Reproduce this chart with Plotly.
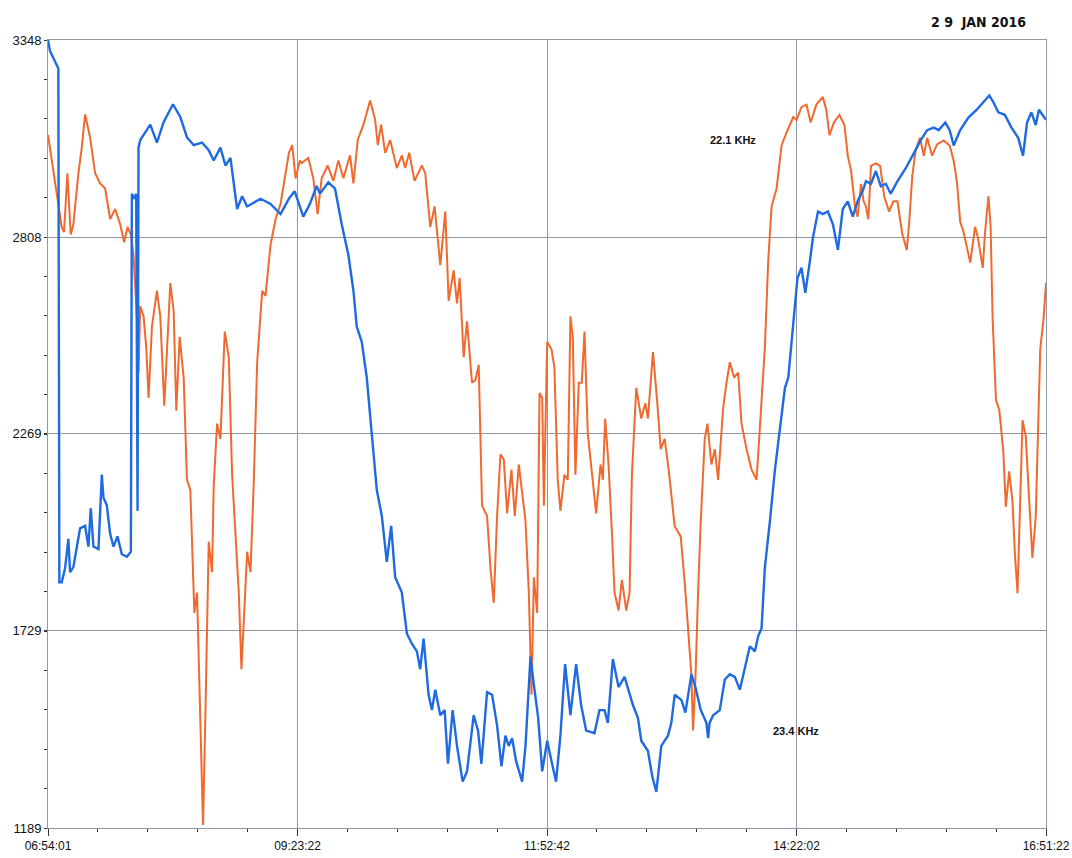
import plotly.graph_objects as go

# Time ticks (HH:MM:SS) and amplitude ticks
x_tick_labels = ["06:54:01", "09:23:22", "11:52:42", "14:22:02", "16:51:22"]
y_tick_values = [1189, 1729, 2269, 2808, 3348]
date_label = "2 9  JAN 2016"

# 22.1 KHz series: minutes after 06:54:01, amplitude
t_221 = [0, 1.2, 3.2, 6.2, 8.2, 9.6, 11.6, 13.6, 15.2, 18.2, 20.2, 22.2, 25.2, 28.2, 31.2, 34.2, 37.2, 40.2,
         43.2, 45.6, 47.6, 49.6, 51.2, 53.2, 54.2, 55.2, 57.2, 58.8, 60.2, 62.2, 65.2, 67.2, 69.6, 73.2, 75.2,
         76.8, 78.8, 81.2, 83.2, 85.2, 87.6, 89.2, 90.8, 92.8, 94.2, 96.2, 98.2, 99.2, 101.2, 103.2, 105.8,
         108.2, 110.2, 112.2, 114.2, 115.8, 117.6, 119.2, 121.2, 123.2, 125.2, 128.2, 130.2, 133.2, 136.2,
         139.2, 142.2, 144.2, 146.2, 148.2, 150.8, 151.8, 155.8, 158.8, 161.4, 163.8, 167.4, 170.8, 173.8,
         176.8, 180.8, 182.8, 185.4, 188.8, 192.8, 195.8, 197.4, 199.4, 201.8, 204.8, 208.8, 211.8, 213.8,
         216.2, 219.4, 223.8, 225.8, 228.8, 231.4, 234.8, 237.8, 239.8, 242.8, 244.8, 246.4, 248.8, 250.8,
         253.8, 255.8, 257.8, 259.8, 262.8, 264.8, 266.8, 268.8, 270.8, 272.8, 274.8, 277.4, 279.4, 281.8,
         283.8, 285.8, 287.8, 289.4, 290.8, 292.8, 294.2, 295.8, 296.8, 298.8, 301.4, 303.1, 305.1, 306.7,
         309.1, 311.1, 312.7, 314.1, 315.7, 317.7, 319.5, 321.1, 323.1, 325.5, 328.1, 330.7, 332.1, 333.5,
         335.5, 337.5, 339.1, 341.5, 343.5, 346.1, 348.1, 349.5, 352.1, 355.1, 357.5, 359.1, 362.1, 364.7,
         366.7, 369.1, 371.5, 375.1, 378.7, 381.1, 383.1, 385.1, 386.1, 387.5, 389.1, 390.7, 393.1, 394.7,
         397.1, 399.1, 401.1, 404.1, 406.1, 408.1, 410.7, 413.1, 415.1, 418.1, 421.1, 424.1, 425.1, 427.1,
         429.1, 431.1, 433.1, 436.1, 439.1, 442.1, 446.1, 448.0, 451.0, 454.0, 456.5, 459.9, 463.8, 465.8,
         467.8, 470.4, 473.7, 476.7, 478.7, 480.7, 483.0, 484.6, 486.6, 488.2, 489.6, 491.0, 492.6, 495.5,
         498.1, 500.5, 503.4, 506.0, 508.4, 511.4, 514.0, 515.5, 517.3, 519.3, 521.9, 524.2, 526.2, 529.2,
         532.1, 536.1, 539.7, 542.1, 544.0, 546.0, 548.0, 550.0, 552.0, 554.9, 556.5, 559.5, 560.9, 562.9,
         564.2, 565.4, 567.4, 569.4, 571.8, 573.3, 575.3, 577.3, 578.7, 580.3, 581.7, 583.3, 585.2, 587.2,
         589.2, 591.2, 592.5, 593.9, 595.9, 597.35]
v_221 = [3088, 3053, 2983, 2899, 2836, 2822, 2983, 2815, 2843, 2983, 3053, 3144, 3081, 2983, 2955, 2941, 2857,
         2885, 2843, 2794, 2836, 2815, 2759, 2591, 2437, 2619, 2591, 2507, 2367, 2563, 2661, 2591, 2346, 2682,
         2605, 2332, 2535, 2423, 2143, 2115, 1778, 1834, 1526, 1197, 1498, 1974, 1890, 2128, 2297, 2255, 2549,
         2479, 2157, 1981, 1834, 1624, 1806, 1946, 1890, 2143, 2465, 2661, 2647, 2787, 2857, 2899, 2983, 3039,
         3060, 2969, 3018, 3011, 3025, 2969, 2871, 2969, 3004, 2962, 3018, 2969, 3032, 2955, 3074, 3116, 3182,
         3130, 3060, 3116, 3039, 3074, 2997, 3032, 2997, 3039, 2962, 3004, 2983, 2836, 2892, 2731, 2878, 2633,
         2717, 2626, 2696, 2479, 2577, 2409, 2416, 2458, 2072, 2044, 1904, 1806, 2044, 2213, 2199, 2051, 2171,
         2044, 2185, 2115, 2030, 1834, 1554, 1876, 1778, 2381, 2367, 2072, 2521, 2500, 2451, 2143, 2058, 2157,
         2143, 2591, 2535, 2157, 2409, 2409, 2549, 2269, 2171, 2051, 2185, 2143, 2311, 2185, 2002, 1834, 1785,
         1869, 1785, 1834, 2157, 2395, 2311, 2353, 2311, 2493, 2353, 2227, 2255, 2171, 2016, 1988, 1862, 1722,
         1610, 1456, 1596, 1834, 2030, 2255, 2297, 2185, 2227, 2143, 2339, 2409, 2465, 2423, 2437, 2297, 2227,
         2171, 2143, 2213, 2367, 2507, 2745, 2892, 2941, 3060, 3095, 3137, 3129, 3164, 3171, 3122, 3171, 3192,
         3157, 3087, 3122, 3143, 3115, 3031, 2989, 2892, 2864, 2954, 2906, 2892, 2857, 3003, 3010, 3003, 2920,
         2878, 2906, 2906, 2815, 2773, 2850, 2975, 3045, 3080, 3031, 3080, 3031, 3062, 3073, 3059, 3017, 2961,
         2850, 2822, 2780, 2738, 2836, 2808, 2724, 2822, 2920, 2836, 2585, 2362, 2334, 2222, 2069, 2166, 2083,
         1943, 1832, 2069, 2306, 2264, 2111, 1929, 2041, 2278, 2501, 2585, 2682]

# 23.4 KHz series: minutes after 06:54:01, amplitude
t_234 = [0, 1.2, 6.2, 6.8, 8.2, 10.2, 12.2, 13.2, 15.2, 17.2, 19.2, 22.2, 24.2, 25.6, 27.2, 30.2, 32.2, 33.2,
         35.2, 37.2, 39.2, 41.6, 44.2, 47.2, 49.6, 50.2, 51.6, 52.8, 53.6, 54.2, 55.2, 58.2, 61.2, 65.2, 69.2,
         74.8, 79.2, 83.2, 87.2, 92.2, 96.2, 99.2, 103.2, 106.2, 109.2, 113.2, 116.2, 119.2, 127.2, 133.2,
         139.2, 144.2, 147.6, 152.8, 156.8, 160.8, 162.8, 167.8, 171.8, 175.8, 179.8, 182.8, 184.8, 187.8,
         190.8, 193.8, 196.8, 199.8, 202.8, 205.4, 207.8, 211.8, 214.8, 217.8, 220.8, 222.8, 224.8, 227.8,
         229.8, 231.8, 234.8, 237.4, 239.4, 242.2, 244.8, 248.2, 250.8, 254.8, 257.4, 259.4, 262.8, 265.8,
         268.8, 271.4, 273.8, 275.8, 277.8, 280.2, 283.8, 285.8, 288.8, 290.8, 293.4, 295.8, 298.8, 300.7,
         304.1, 306.7, 309.5, 312.7, 316.1, 319.1, 322.1, 327.1, 330.1, 333.1, 335.1, 338.1, 341.5, 345.1,
         350.1, 353.1, 355.1, 359.1, 361.7, 364.1, 367.1, 371.1, 373.1, 375.1, 379.1, 381.5, 385.1, 387.5,
         390.7, 394.1, 395.1, 396.0, 398.1, 402.1, 405.1, 408.1, 411.1, 414.1, 417.1, 420.1, 423.1, 425.1,
         427.1, 429.1, 432.1, 435.1, 438.1, 441.1, 443.1, 446.1, 448.6, 451.0, 453.3, 455.9, 457.9, 460.9,
         463.8, 466.8, 469.8, 472.8, 475.7, 478.7, 481.7, 484.6, 487.6, 489.6, 492.6, 495.5, 498.5, 501.5,
         504.4, 508.4, 513.3, 518.3, 522.3, 526.2, 530.2, 533.1, 537.1, 539.7, 542.1, 546.0, 551.0, 555.9,
         559.9, 563.4, 565.8, 568.8, 572.7, 576.7, 580.7, 583.6, 586.0, 588.6, 591.2, 593.1, 597.35]
v_234 = [3348, 3318, 3270, 1862, 1862, 1900, 1981, 1890, 1904, 1960, 2010, 2017, 1960, 2065, 1960, 1953, 2157,
         2094, 2073, 1995, 1960, 1988, 1939, 1932, 1946, 2927, 2913, 2927, 2058, 3053, 3074, 3095, 3116, 3067,
         3123, 3172, 3137, 3081, 3060, 3067, 3046, 3018, 3053, 3004, 3025, 2885, 2920, 2892, 2913, 2899, 2871,
         2913, 2934, 2864, 2899, 2948, 2927, 2958, 2941, 2843, 2759, 2661, 2563, 2521, 2423, 2269, 2115, 2044,
         1918, 2017, 1876, 1834, 1722, 1694, 1673, 1624, 1708, 1554, 1512, 1568, 1498, 1512, 1365, 1512, 1414,
         1316, 1344, 1498, 1456, 1365, 1561, 1554, 1470, 1358, 1442, 1414, 1435, 1372, 1316, 1414, 1659, 1582,
         1491, 1344, 1428, 1386, 1316, 1442, 1638, 1498, 1638, 1526, 1456, 1449, 1512, 1512, 1477, 1652, 1575,
         1603, 1526, 1491, 1428, 1400, 1330, 1288, 1414, 1442, 1477, 1554, 1540, 1505, 1610, 1575, 1512, 1477,
         1435, 1477, 1498, 1512, 1596, 1610, 1603, 1568, 1624, 1687, 1673, 1715, 1736, 1904, 2030, 2171, 2283,
         2395, 2423, 2563, 2696, 2724, 2655, 2738, 2808, 2878, 2871, 2878, 2843, 2773, 2885, 2906, 2864, 2906,
         2934, 2961, 2954, 2989, 2947, 2954, 2927, 2961, 2996, 3038, 3073, 3101, 3108, 3101, 3122, 3101, 3059,
         3101, 3136, 3157, 3178, 3196, 3178, 3150, 3143, 3108, 3080, 3031, 3122, 3150, 3115, 3157, 3129]

# Series label placement (minutes, amplitude)
label_221 = ("22.1 KHz", 410, 3074)
label_234 = ("23.4 KHz", 448, 1455)


def to_minutes(label):
    h, m, s = (int(p) for p in label.split(":"))
    h0, m0, s0 = (int(p) for p in x_tick_labels[0].split(":"))
    return (h * 3600 + m * 60 + s - (h0 * 3600 + m0 * 60 + s0)) / 60.0


x_tick_vals = [to_minutes(l) for l in x_tick_labels]
x_minor = (x_tick_vals[-1] - x_tick_vals[0]) / 20
y_minor = (y_tick_values[-1] - y_tick_values[0]) / 20

ORANGE = "#f0692f"
BLUE = "#1f6ae0"
GRID = "#9098a6"
FONT = "Liberation Sans, Arial, sans-serif"

fig = go.Figure()
fig.add_trace(go.Scatter(x=t_221, y=v_221, mode="lines", line=dict(color=ORANGE, width=2), name="22.1 KHz"))
fig.add_trace(go.Scatter(x=t_234, y=v_234, mode="lines", line=dict(color=BLUE, width=2.4), name="23.4 KHz"))

for text, lx, ly in (label_221, label_234):
    fig.add_annotation(x=lx, y=ly, xref="x", yref="y", text="<b>" + text + "</b>", showarrow=False,
                       xanchor="center", yanchor="middle",
                       font=dict(family=FONT, size=11, color="#111"))
fig.add_annotation(x=1.0, y=1.0, xref="paper", yref="paper", yshift=18, xanchor="right", xshift=-18,
                   yanchor="middle", text="<b>" + date_label + "</b>", showarrow=False,
                   font=dict(family="DejaVu Sans Condensed, Liberation Sans Narrow, sans-serif", size=14, color="#111"))

fig.update_layout(
    width=1072, height=858,
    margin=dict(l=48, r=26, t=40, b=30, autoexpand=False),
    paper_bgcolor="white", plot_bgcolor="white",
    showlegend=False,
    font=dict(family=FONT, size=12, color="#111"),
)
fig.update_xaxes(
    range=[x_tick_vals[0], x_tick_vals[-1]], tickvals=x_tick_vals, ticktext=x_tick_labels,
    showgrid=True, gridcolor=GRID, gridwidth=1, zeroline=False,
    showline=True, linecolor=GRID, linewidth=1, mirror=True,
    ticks="outside", ticklen=7, tickcolor="#333", tickwidth=1,
    minor=dict(ticks="outside", ticklen=3, tick0=x_tick_vals[0], dtick=x_minor, tickcolor="#333", showgrid=False),
    tickfont=dict(size=12),
)
fig.update_yaxes(
    range=[y_tick_values[0], y_tick_values[-1]], tickvals=y_tick_values,
    showgrid=True, gridcolor=GRID, gridwidth=1, zeroline=False,
    showline=True, linecolor=GRID, linewidth=1, mirror=True,
    ticks="outside", ticklen=3, tickcolor="#333",
    minor=dict(ticks="outside", ticklen=3, tick0=y_tick_values[0], dtick=y_minor, tickcolor="#333", showgrid=False),
    tickfont=dict(size=13),
)

fig.write_html("out.html", config={"displayModeBar": False},
               post_script="document.body.style.margin='0';")
